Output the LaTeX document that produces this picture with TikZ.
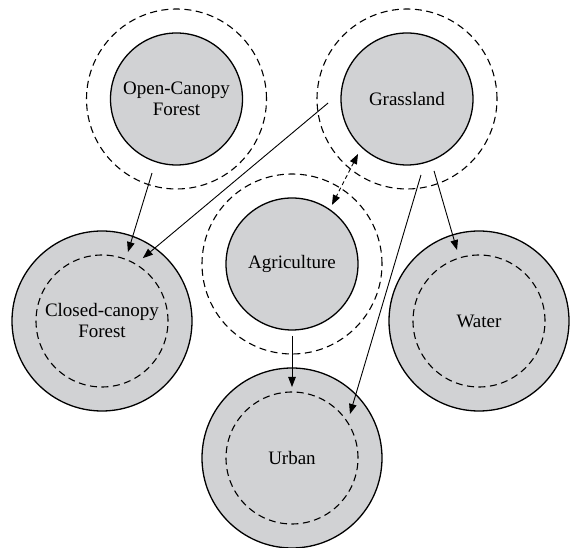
\documentclass[tikz,border=0pt]{standalone}
\usepackage{fontspec}
\setmainfont{Liberation Serif}
\usetikzlibrary{arrows.meta}
\definecolor{landgray}{RGB}{209,210,212}
\begin{document}
\begin{tikzpicture}[x=1pt,y=1pt,
  inner/.style={circle,draw,line width=1.3pt,fill=landgray,minimum size=132pt,inner sep=0pt,align=center,font=\fontsize{19}{21}\selectfont},
  bigc/.style={circle,draw,line width=1.3pt,fill=landgray,minimum size=180pt,inner sep=0pt,align=center,font=\fontsize{19}{21}\selectfont},
  ringout/.style={circle,draw,line width=1.1pt,dash pattern=on 7pt off 4.5pt,minimum size=180pt,inner sep=0pt},
  ringin/.style={circle,draw,line width=1.1pt,dash pattern=on 7pt off 4.5pt,minimum size=132pt,inner sep=0pt},
  flow/.style={line width=0.9pt,-{Triangle[length=10pt,width=7.5pt]}},
  swap/.style={line width=0.9pt,dash pattern=on 4pt off 3pt,{Triangle[length=10pt,width=7.5pt]}-{Triangle[length=10pt,width=7.5pt]}}]
\useasboundingbox (0,0) rectangle (570,548);
% outer dashed rings
\node[ringout] (ocfr) at (176.5,449) {};
\node[ringout] (grsr) at (407,449) {};
\node[ringout] (agrr) at (292,284) {};
% inner filled circles
\node[inner] (ocf) at (176.5,449) {Open-Canopy\\Forest};
\node[inner] (grs) at (407,449) {Grassland};
\node[inner] (agr) at (292,284) {Agriculture};
% big filled circles with inner dashed rings
\node[bigc] (ccf) at (102,227) {};
\node[ringin] (ccfr) at (102,227) {};
\node[align=center,font=\fontsize{19}{21}\selectfont] (ccft) at (102,227) {Closed-canopy\\Forest};
\node[bigc] (wat) at (479,227) {};
\node[ringin] (watr) at (479,227) {};
\node[font=\fontsize{19}{21}\selectfont] (watt) at (479,227) {Water};
\node[bigc] (urb) at (292,90) {};
\node[ringin] (urbr) at (292,90) {};
\node[font=\fontsize{19}{21}\selectfont] (urbt) at (292,90) {Urban};
% connector end points
\path (ocf.center) ++(251.7:78) coordinate (s1);
\path (ccf.center) ++(69.4:73.7) coordinate (e1);
\path (grs.center) ++(182.9:79) coordinate (s2);
\path (ccf.center) ++(57:75) coordinate (e2);
\path (grs.center) ++(228.3:73.7) coordinate (s3);
\path (agr.center) ++(55.9:71.3) coordinate (e3);
\path (grs.center) ++(280.4:77.3) coordinate (s4);
\path (urb.center) ++(37.2:72.8) coordinate (e4);
\path (grs.center) ++(290.6:76.9) coordinate (s5);
\path (wat.center) ++(107.2:74.3) coordinate (e5);
\path (agr.center) ++(270:72) coordinate (s6);
\path (urb.center) ++(90:71) coordinate (e6);
% connectors
\draw[flow] (s1) -- (e1);
\draw[flow] (s2) -- (e2);
\draw[swap] (s3) -- (e3);
\draw[flow] (s4) -- (e4);
\draw[flow] (s5) -- (e5);
\draw[flow] (s6) -- (e6);
\end{tikzpicture}
\end{document}
